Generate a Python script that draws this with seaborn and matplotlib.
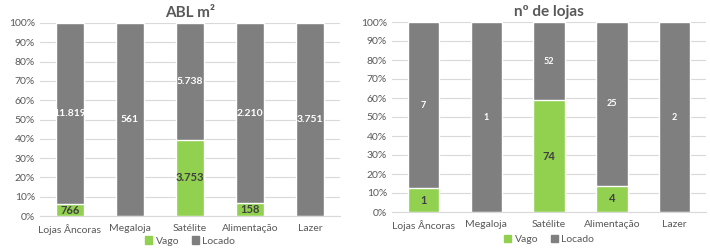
import numpy as np
import pandas as pd
import seaborn as sns
import matplotlib.pyplot as plt
from matplotlib.patches import Patch

sns.set_style("white")
plt.rcParams['font.family'] = ['Lato', 'DejaVu Sans']

categorias = ["Lojas Âncoras", "Megaloja", "Satélite", "Alimentação", "Lazer"]
abl_vago = [766, 0, 3753, 158, 0]
abl_locado = [11819, 561, 5738, 2210, 3751]
lojas_vago = [1, 0, 74, 4, 0]
lojas_locado = [7, 1, 52, 25, 2]

VERDE = "#92D050"
CINZA = "#7F7F7F"


def fmt(v):
    return f"{v:,}".replace(",", ".")


def painel(ax, vago, locado, titulo, width, fs_loc):
    df = pd.DataFrame({"cat": categorias, "vago": vago, "locado": locado})
    df["total"] = df["vago"] + df["locado"]
    df["pv"] = df["vago"] / df["total"] * 100
    df["full"] = 100.0

    sns.barplot(data=df, x="cat", y="full", color=CINZA, saturation=1,
                width=width, edgecolor="white", linewidth=1, ax=ax, zorder=2)
    sns.barplot(data=df, x="cat", y="pv", color=VERDE, saturation=1,
                width=width, edgecolor="white", linewidth=1, ax=ax, zorder=3)
    for p in ax.patches:
        if p.get_height() == 0:
            p.set_visible(False)

    for i, r in df.iterrows():
        if r["vago"] > 0:
            ax.text(i, r["pv"] / 2, fmt(int(r["vago"])), ha="center", va="center",
                    fontsize=8, fontweight="bold", color="#404040", zorder=4)
        ax.text(i, (r["pv"] + 100) / 2, fmt(int(r["locado"])), ha="center", va="center",
                fontsize=fs_loc, fontweight="bold", color="white", zorder=4)

    ax.set_ylim(0, 100)
    ax.set_yticks(np.arange(0, 101, 10))
    ax.set_yticklabels([f"{t}%" for t in range(0, 101, 10)])
    ax.yaxis.grid(True, color="#D9D9D9", linewidth=0.8, zorder=0)
    ax.set_axisbelow(True)
    for s in ["top", "right", "left"]:
        ax.spines[s].set_visible(False)
    ax.spines["bottom"].set_color("#D9D9D9")
    ax.tick_params(axis="both", length=0, labelsize=7.5, colors="#595959")
    ax.tick_params(axis="x", pad=6)
    ax.set_xlabel("")
    ax.set_ylabel("")
    ax.set_xlim(-0.5, 4.5)
    ax.set_title(titulo, fontsize=11, fontweight="bold", color="#595959", pad=4)


fig = plt.figure(figsize=(7.1, 2.48), dpi=100)
ax1 = fig.add_axes([40 / 710, 1 - 216 / 248, 300 / 710, 193 / 248])
ax2 = fig.add_axes([392 / 710, 1 - 212 / 248, 314 / 710, 190 / 248])

painel(ax1, abl_vago, abl_locado, "ABL m²", 0.48, 7.5)
painel(ax2, lojas_vago, lojas_locado, "nº de lojas", 0.5, 6.5)

handles = [Patch(color=VERDE, label="Vago"), Patch(color=CINZA, label="Locado")]
for ax, y in [(ax1, -0.13), (ax2, -0.145)]:
    ax.legend(handles=handles, loc="center", bbox_to_anchor=(0.5, y), ncol=2,
              frameon=False, fontsize=7.5, handlelength=0.7, handleheight=0.7,
              columnspacing=1.2, handletextpad=0.3, labelcolor="#595959",
              borderpad=0, borderaxespad=0)

fig.savefig("out.png", dpi=100)
